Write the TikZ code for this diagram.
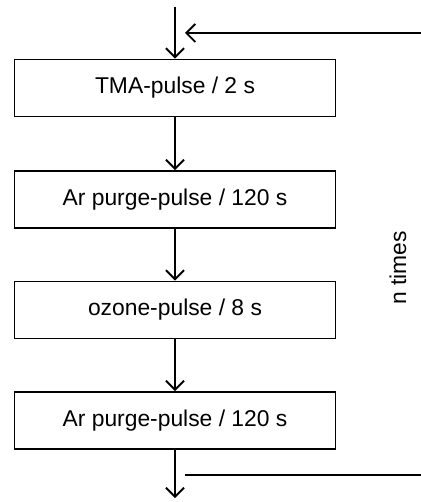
\documentclass[tikz,border=0pt]{standalone}
\usepackage{fontspec}
\setmainfont{Liberation Sans}
\usetikzlibrary{arrows.meta}

\begin{document}
\begin{tikzpicture}
  [x=0.02cm,y=-0.02cm,
   pulse/.style={draw,line width=1.1pt,minimum width=6.42cm,minimum height=1.14cm,
                 inner sep=0pt,font=\fontsize{13}{15}\selectfont},
   flow/.style={line width=1.1pt,-{Straight Barb[length=1.8mm,width=3.6mm,line width=1.1pt]}}]

  \useasboundingbox (0,0) rectangle (421,502);

  \node[pulse] (p1) at (175,88)    {TMA-pulse / 2 s};
  \node[pulse] (p2) at (175,199.5) {Ar purge-pulse / 120 s};
  \node[pulse] (p3) at (175,310)   {ozone-pulse / 8 s};
  \node[pulse] (p4) at (175,420.5) {Ar purge-pulse / 120 s};

  \coordinate (in) at (175,7);
  \coordinate (out) at (175,498);
  \coordinate (loopin) at (421,33);
  \coordinate (loopend) at (185,33);
  \coordinate (backstart) at (185,475);
  \coordinate (backend) at (421,475);

  \draw[flow] (in) -- (p1);
  \foreach \from/\to in {p1/p2,p2/p3,p3/p4}
    \draw[flow] (\from) -- (\to);
  \draw[flow] (p4) -- (out);

  \draw[flow] (loopin) -- (loopend);
  \draw[line width=1.1pt] (backstart) -- (backend);

  \node[rotate=90,font=\fontsize{13}{15}\selectfont] (times) at (398,268) {n times};
\end{tikzpicture}
\end{document}
